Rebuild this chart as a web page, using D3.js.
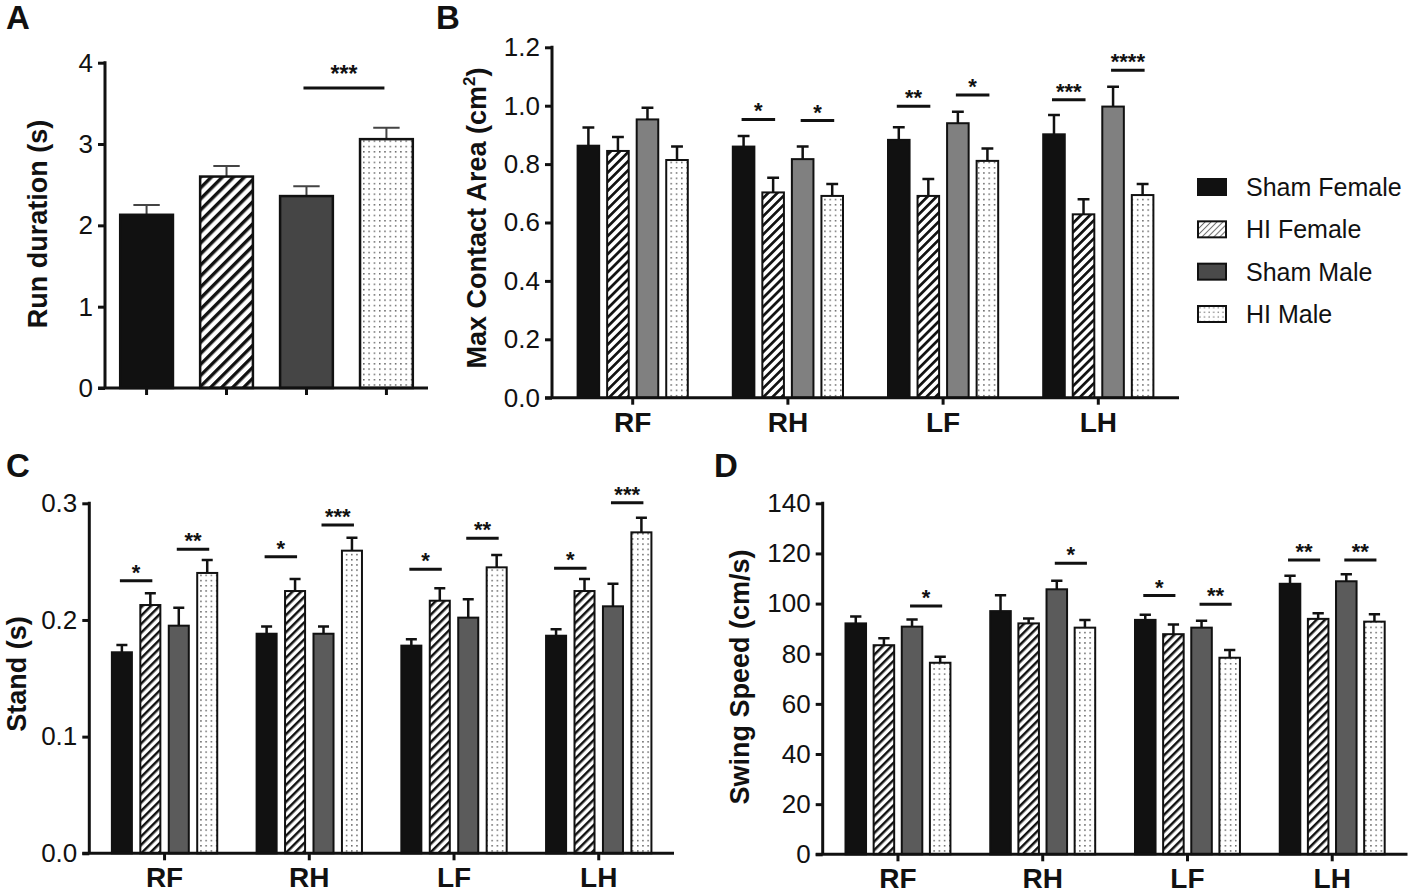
<!DOCTYPE html>
<html>
<head>
<meta charset="utf-8">
<script src="https://cdn.jsdelivr.net/npm/d3@7"></script>
<style>
  body { margin: 0; background: #fff; }
  svg { display: block; font-family: "Liberation Sans", Arial, sans-serif; }
</style>
</head>
<body>
<svg id="fig" width="1418" height="894"></svg>
<script>
const groups = ["Sham Female", "HI Female", "Sham Male", "HI Male"];
const limbs = ["RF", "RH", "LF", "LH"];

// A - run duration (s), one bar per group
const runMean = [2.13, 2.60, 2.36, 3.06];
const runSem = [0.12, 0.13, 0.12, 0.14];
const runTicks = [0, 1, 2, 3, 4];
const runSig = [{ pair: ["Sham Male", "HI Male"], y: 3.69, label: "***" }];

// B - max contact area (cm2), rows = limbs, cols = groups
const areaMean = [
  [0.863, 0.845, 0.953, 0.814],
  [0.860, 0.703, 0.817, 0.691],
  [0.883, 0.691, 0.940, 0.811],
  [0.902, 0.628, 0.997, 0.694]
];
const areaSem = [
  [0.062, 0.048, 0.040, 0.046],
  [0.036, 0.050, 0.043, 0.041],
  [0.043, 0.058, 0.039, 0.042],
  [0.066, 0.052, 0.068, 0.038]
];
const areaTicks = [0, 0.2, 0.4, 0.6, 0.8, 1.0, 1.2];
const areaSig = [
  { limb: "RH", a: 0, b: 1, y: 0.953, label: "*" },
  { limb: "RH", a: 2, b: 3, y: 0.949, label: "*" },
  { limb: "LF", a: 0, b: 1, y: 0.998, label: "**" },
  { limb: "LF", a: 2, b: 3, y: 1.037, label: "*" },
  { limb: "LH", a: 0, b: 1, y: 1.020, label: "***" },
  { limb: "LH", a: 2, b: 3, y: 1.121, label: "****" }
];

// C - stand (s)
const standMean = [
  [0.1723, 0.2128, 0.1951, 0.2403],
  [0.1882, 0.2248, 0.1882, 0.2594],
  [0.1780, 0.2165, 0.2020, 0.2451],
  [0.1865, 0.2248, 0.2117, 0.2751]
];
const standSem = [
  [0.0062, 0.0101, 0.0154, 0.0111],
  [0.0061, 0.0103, 0.0061, 0.0111],
  [0.0054, 0.0106, 0.0157, 0.0106],
  [0.0055, 0.0103, 0.0194, 0.0126]
];
const standTicks = [0, 0.1, 0.2, 0.3];
const standSig = [
  { limb: "RF", a: 0, b: 1, y: 0.2337, label: "*" },
  { limb: "RF", a: 2, b: 3, y: 0.2606, label: "**" },
  { limb: "RH", a: 0, b: 1, y: 0.2542, label: "*" },
  { limb: "RH", a: 2, b: 3, y: 0.2814, label: "***" },
  { limb: "LF", a: 0, b: 1, y: 0.2434, label: "*" },
  { limb: "LF", a: 2, b: 3, y: 0.2700, label: "**" },
  { limb: "LH", a: 0, b: 1, y: 0.2443, label: "*" },
  { limb: "LH", a: 2, b: 3, y: 0.3005, label: "***" }
];

// D - swing speed (cm/s)
const swingMean = [
  [92.1, 83.4, 90.8, 76.4],
  [97.0, 92.1, 105.7, 90.4],
  [93.5, 87.8, 90.4, 78.4],
  [107.9, 93.9, 108.9, 92.8]
];
const swingSem = [
  [2.7, 2.8, 2.9, 2.4],
  [6.3, 2.0, 3.4, 3.1],
  [2.0, 3.9, 2.8, 3.1],
  [3.2, 2.2, 2.8, 2.9]
];
const swingTicks = [0, 20, 40, 60, 80, 100, 120, 140];
const swingSig = [
  { limb: "RF", a: 2, b: 3, y: 99.0, label: "*" },
  { limb: "RH", a: 2, b: 3, y: 116.1, label: "*" },
  { limb: "LF", a: 0, b: 1, y: 103.2, label: "*" },
  { limb: "LF", a: 2, b: 3, y: 99.7, label: "**" },
  { limb: "LH", a: 0, b: 1, y: 117.4, label: "**" },
  { limb: "LH", a: 2, b: 3, y: 117.4, label: "**" }
];

const svg = d3.select("#fig");
const defs = svg.append("defs");

function hatch(id, size, sw, color) {
  const p = defs.append("pattern").attr("id", id)
    .attr("patternUnits", "userSpaceOnUse")
    .attr("width", size).attr("height", size)
    .attr("patternTransform", "rotate(45)");
  p.append("rect").attr("width", size).attr("height", size).attr("fill", "#fff");
  p.append("rect").attr("width", sw).attr("height", size).attr("fill", color);
}

function dots(id, size, r, color) {
  const p = defs.append("pattern").attr("id", id)
    .attr("patternUnits", "userSpaceOnUse")
    .attr("width", size).attr("height", size);
  p.append("rect").attr("width", size).attr("height", size).attr("fill", "#fff");
  p.append("rect").attr("x", size / 2).attr("y", size / 2).attr("width", r).attr("height", r).attr("fill", color);
}

hatch("hA", 7.8, 3.4, "#111");
hatch("hB", 6.4, 2.7, "#111");
hatch("hC", 6.0, 2.5, "#111");
hatch("hL", 4.2, 1.0, "#666");
dots("dA", 5.3, 1.5, "#666");
dots("dB", 5.3, 1.5, "#666");
dots("dC", 5.2, 1.5, "#666");
dots("dL", 4.6, 1.3, "#777");

function drawPanel(o) {
  const g = svg.append("g");
  const y = d3.scaleLinear().domain([0, o.yMax]).range([o.y0, o.y1]);
  const x = d3.scaleBand().domain(o.cats).range([o.x0, o.x1]).paddingInner(0).paddingOuter(0.02);
  const bw = x.bandwidth();
  const gw = bw * o.groupFrac;
  const xi = d3.scaleBand().domain(o.series).range([0, gw]).paddingInner(o.barGap);
  const fills = ["#111", `url(#${o.hatch})`, o.maleColor, `url(#${o.dots})`];

  const bars = [];
  o.cats.forEach((c, ci) => {
    o.series.forEach((s, si) => {
      bars.push({ cat: c, s: s, si: o.single ? ci : si, v: o.mean[ci][si], e: o.sem[ci][si] });
    });
  });
  const barX = d => x(d.cat) + (bw - gw) / 2 + xi(d.s);
  const barW = xi.bandwidth();
  const cx = (cat, s) => x(cat) + (bw - gw) / 2 + xi(s) + barW / 2;

  // error bars (upper only)
  const cap = barW * o.capFrac;
  g.append("g").selectAll("path").data(bars).join("path")
    .attr("d", d => {
      const c = barX(d) + barW / 2;
      return `M${c},${y(d.v)}V${y(d.v + d.e)}M${c - cap / 2},${y(d.v + d.e)}H${c + cap / 2}`;
    })
    .attr("fill", "none").attr("stroke", o.errColor).attr("stroke-width", o.errWidth);

  g.append("g").selectAll("rect").data(bars).join("rect")
    .attr("x", barX).attr("width", barW)
    .attr("y", d => y(d.v)).attr("height", d => y(0) - y(d.v))
    .attr("fill", d => fills[d.si])
    .attr("stroke", "#111").attr("stroke-width", o.barStroke);

  // y axis
  const ya = g.append("g").attr("transform", `translate(${o.x0},0)`)
    .call(d3.axisLeft(y).tickValues(o.ticks).tickFormat(o.fmt).tickSize(7).tickPadding(5).tickSizeOuter(0));
  ya.select(".domain").remove();
  ya.attr("font-size", null).attr("font-family", null);
  ya.selectAll("line").attr("stroke", "#111").attr("stroke-width", 3);
  ya.selectAll("text").attr("font-size", 26).attr("fill", "#111");

  const xa = g.append("g").attr("transform", `translate(0,${o.y0})`)
    .call(d3.axisBottom(x).tickSize(7).tickPadding(7).tickSizeOuter(0).tickFormat(o.single ? "" : d => d));
  xa.select(".domain").remove();
  xa.attr("font-size", null).attr("font-family", null);
  xa.selectAll("line").attr("stroke", "#111").attr("stroke-width", 3);
  xa.selectAll("text").attr("font-size", 28).attr("font-weight", "bold").attr("fill", "#111");

  g.append("line").attr("x1", o.x0).attr("x2", o.x0).attr("y1", o.y1 - 1.5).attr("y2", o.y0)
    .attr("stroke", "#111").attr("stroke-width", 3);
  g.append("line").attr("x1", o.x0 - 7).attr("x2", o.x1).attr("y1", o.y0).attr("y2", o.y0)
    .attr("stroke", "#111").attr("stroke-width", 3);

  // significance bars
  const ends = d => o.single
    ? [cx(d.pair[0], o.series[0]) - 3, cx(d.pair[1], o.series[0]) - 2]
    : [cx(d.limb, o.series[d.a]) - 2, cx(d.limb, o.series[d.b]) + 2];
  const sg = g.append("g").selectAll("g").data(o.sig).join("g");
  sg.append("line")
    .attr("x1", d => ends(d)[0]).attr("x2", d => ends(d)[1])
    .attr("y1", d => y(d.y)).attr("y2", d => y(d.y))
    .attr("stroke", "#111").attr("stroke-width", 3);
  sg.append("text")
    .attr("x", d => (ends(d)[0] + ends(d)[1]) / 2)
    .attr("y", d => y(d.y) - o.starGap)
    .attr("text-anchor", "middle").attr("font-weight", "bold").attr("font-size", o.starSize)
    .attr("fill", "#111").text(d => d.label);

  // axis title
  const t = g.append("text")
    .attr("transform", `translate(${o.titleX},${o.titleY}) rotate(-90)`)
    .attr("text-anchor", "middle").attr("font-weight", "bold").attr("font-size", 27).attr("fill", "#111");
  t.append("tspan").text(o.title);
  if (o.titleSup) {
    t.append("tspan").attr("font-size", 17).attr("dy", -11).text(o.titleSup);
    t.append("tspan").attr("dy", 11).text(o.titleEnd);
  }

  svg.append("text").attr("x", o.letterX).attr("y", o.letterY)
    .attr("font-weight", "bold").attr("font-size", 33).attr("fill", "#111").text(o.letter);
}

drawPanel({
  letter: "A", letterX: 6, letterY: 29,
  single: true, cats: groups, series: ["bar"],
  mean: runMean.map(v => [v]), sem: runSem.map(v => [v]),
  sig: runSig, ticks: runTicks, fmt: d3.format("d"), yMax: 4,
  x0: 105, x1: 428, y0: 388, y1: 62.7,
  groupFrac: 0.66, barGap: 0, capFrac: 0.5,
  hatch: "hA", dots: "dA", maleColor: "#454545",
  errColor: "#444", errWidth: 2, barStroke: 2.5,
  starSize: 23, starGap: 6,
  title: "Run duration (s)", titleX: 47, titleY: 224
});

drawPanel({
  letter: "B", letterX: 436, letterY: 29,
  cats: limbs, series: groups, mean: areaMean, sem: areaSem,
  sig: areaSig, ticks: areaTicks, fmt: d3.format(".1f"), yMax: 1.2,
  x0: 552, x1: 1179, y0: 397.7, y1: 47.3,
  groupFrac: 0.71, barGap: 0.27, capFrac: 0.55,
  hatch: "hB", dots: "dB", maleColor: "#808080",
  errColor: "#111", errWidth: 2.5, barStroke: 2,
  starSize: 22, starGap: 1,
  title: "Max Contact Area (cm", titleSup: "2", titleEnd: ")", titleX: 486, titleY: 218
});

drawPanel({
  letter: "C", letterX: 6, letterY: 477,
  cats: limbs, series: groups, mean: standMean, sem: standSem,
  sig: standSig, ticks: standTicks, fmt: d3.format(".1f"), yMax: 0.3,
  x0: 89.3, x1: 674, y0: 853.3, y1: 503.3,
  groupFrac: 0.728, barGap: 0.296, capFrac: 0.55,
  hatch: "hC", dots: "dC", maleColor: "#5b5b5b",
  errColor: "#111", errWidth: 2.5, barStroke: 2,
  starSize: 22, starGap: 1,
  title: "Stand (s)", titleX: 26, titleY: 674
});

drawPanel({
  letter: "D", letterX: 714, letterY: 477,
  cats: limbs, series: groups, mean: swingMean, sem: swingSem,
  sig: swingSig, ticks: swingTicks, fmt: d3.format("d"), yMax: 140,
  x0: 822.7, x1: 1407.5, y0: 854.3, y1: 503.3,
  groupFrac: 0.725, barGap: 0.27, capFrac: 0.55,
  hatch: "hC", dots: "dC", maleColor: "#5b5b5b",
  errColor: "#111", errWidth: 2.5, barStroke: 2,
  starSize: 22, starGap: 1,
  title: "Swing Speed (cm/s)", titleX: 749, titleY: 677
});

// legend
const legendFills = ["#111", "url(#hL)", "#4a4a4a", "url(#dL)"];
const lg = svg.append("g").attr("transform", "translate(1197,0)");
const rowY = d3.scalePoint().domain(groups).range([187, 314]);
const row = lg.selectAll("g").data(groups).join("g")
  .attr("transform", d => `translate(0,${rowY(d)})`);
row.append("rect").attr("x", 1).attr("y", -8).attr("width", 28).attr("height", 16)
  .attr("fill", (d, i) => legendFills[i]).attr("stroke", "#111").attr("stroke-width", 2);
row.append("text").attr("x", 49).attr("y", 9)
  .attr("font-size", 25).attr("fill", "#111").text(d => d);
</script>
</body>
</html>
